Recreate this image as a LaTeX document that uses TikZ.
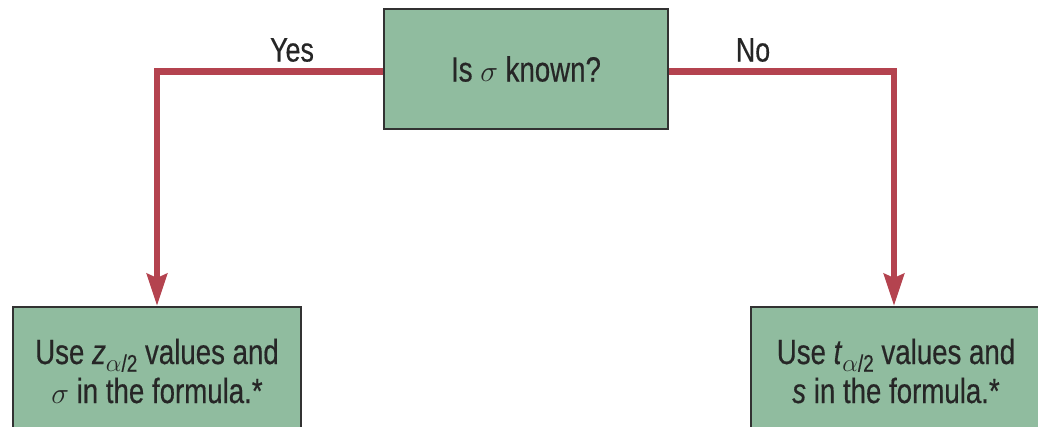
\documentclass[tikz,border=0pt]{standalone}
\usepackage{fontspec}
\usepackage{graphicx}
\setmainfont{Liberation Sans}[FakeStretch=0.79,FakeBold=0.4]
\usetikzlibrary{arrows.meta}
\definecolor{boxgreen}{RGB}{144,188,159}
\definecolor{flowred}{RGB}{180,67,79}
\definecolor{boxborder}{RGB}{50,50,50}
\newcommand\mysig{\scalebox{1.2}{$\sigma$}}
\newcommand\mysub[1]{\raisebox{-0.22em}{\fontsize{24}{24}\selectfont #1}}
\tikzset{
  stepbox/.style={draw=boxborder, line width=2pt, fill=boxgreen, inner sep=0pt,
    align=center, font=\fontsize{35}{39}\selectfont, text=black!85},
  flow/.style={draw=flowred, line width=6.5pt,
    -{Stealth[length=32pt,width=20pt,inset=4pt]}},
  lbl/.style={font=\fontsize{34}{36}\selectfont, text=black!85, inner sep=0pt}
}
\begin{document}
\begin{tikzpicture}[x=1pt,y=-1pt]
\useasboundingbox (0,0) rectangle (1038,427);
\clip (0,0) rectangle (1038,427);
\node[stepbox, minimum width=284pt, minimum height=120pt] (q) at (526,69) {Is \mysig\ known?};
\node[stepbox, minimum width=288pt, minimum height=128pt] (l) at (157,371)
  {Use \textit{z}\mysub{$\alpha$/2} values and\\ \mysig\ in the formula.*};
\node[stepbox, minimum width=290pt, minimum height=128pt] (r) at (896,371)
  {Use \textit{t}\mysub{$\alpha$/2} values and\\ \textit{s} in the formula.*};
\draw[flow] ([yshift=-2.5pt]q.west) -| (l.north);
\draw[flow] ([yshift=-2.5pt]q.east) -| ([xshift=-2pt]r.north);
\node[lbl] (yes) at (292,50) {Yes};
\node[lbl] (no) at (753,50) {No};
\end{tikzpicture}
\end{document}
